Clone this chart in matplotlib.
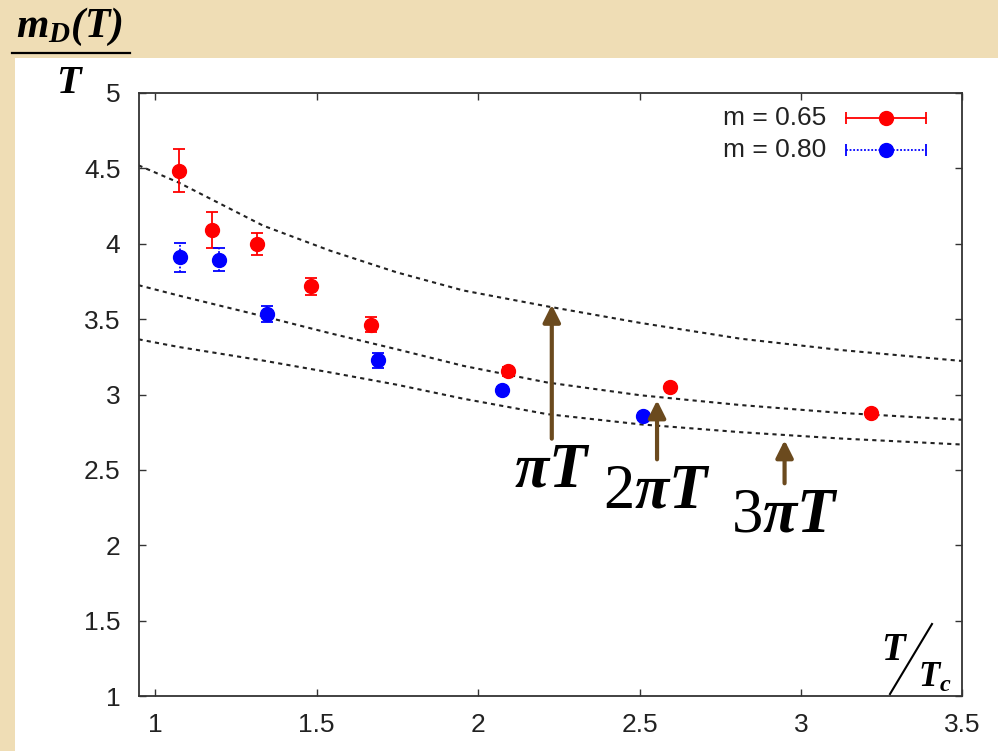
"""
Debye screening mass m_D(T)/T against T/Tc for two quark masses,
with the perturbative curves for three choices of the scale.
"""

import matplotlib.pyplot as plt
from matplotlib.patches import Rectangle
from matplotlib.lines import Line2D

plt.rcParams['font.family'] = ['Liberation Sans', 'DejaVu Sans']
plt.rcParams['mathtext.fontset'] = 'custom'
plt.rcParams['mathtext.rm'] = 'Liberation Serif'
plt.rcParams['mathtext.it'] = 'Liberation Serif:italic'
plt.rcParams['mathtext.bf'] = 'Liberation Serif:bold:italic'

# m = 0.65
t_065 = [1.073, 1.177, 1.316, 1.482, 1.667, 2.091, 2.593, 3.216]
md_065 = [4.483, 4.093, 3.998, 3.717, 3.464, 3.154, 3.049, 2.874]
err_065 = [0.143, 0.120, 0.075, 0.055, 0.050, 0.030, 0.020, 0.020]

# m = 0.80
t_080 = [1.075, 1.197, 1.346, 1.690, 2.073, 2.511]
md_080 = [3.909, 3.894, 3.534, 3.227, 3.033, 2.856]
err_080 = [0.097, 0.077, 0.055, 0.050, 0.020, 0.020]

# perturbative curves, mu = pi T, 2 pi T, 3 pi T
t_curve = [0.948, 1.073, 1.334, 1.540, 1.748, 1.954, 2.213, 2.502, 2.813, 3.123, 3.50]
pt_1 = [4.520, 4.405, 4.120, 3.955, 3.810, 3.690, 3.585, 3.475, 3.370, 3.295, 3.222]
pt_2 = [3.725, 3.656, 3.519, 3.407, 3.300, 3.190, 3.080, 2.995, 2.930, 2.878, 2.832]
pt_3 = [3.366, 3.315, 3.225, 3.147, 3.065, 2.972, 2.870, 2.802, 2.750, 2.708, 2.668]

# arrows pointing at the curves: x, tail, head, label
arrow_x = [2.228, 2.554, 2.949]
arrow_tail = [2.707, 2.570, 2.411]
arrow_head = [3.596, 2.962, 2.697]
arrow_text = [r'$\mathbf{\pi T}$', r'$2\mathbf{\pi T}$', r'$3\mathbf{\pi T}$']

parchment = '#EFDDB5'
brown = '#6B4A1E'

fig = plt.figure(figsize=(9.98, 7.51), dpi=100, facecolor=parchment)
fig.patches.append(Rectangle((15 / 998, 0), 1, 1 - 58 / 751, transform=fig.transFigure,
                             facecolor='white', edgecolor='none', zorder=-5))

ax = fig.add_axes([0.1388, 0.0732, 0.8256, 0.803], zorder=1)
ax.set_facecolor('white')

for curve in (pt_1, pt_2, pt_3):
    ax.plot(t_curve, curve, color='#222222', lw=1.5, ls=(0, (2, 2)), zorder=2)

eb = ax.errorbar(t_065, md_065, yerr=err_065, fmt='o', color='#FF0000', ms=10,
                 elinewidth=1.3, capsize=4, capthick=1.3, zorder=4)
eb2 = ax.errorbar(t_080, md_080, yerr=err_080, fmt='o', color='#0000FF', ms=10,
                  elinewidth=1.3, capsize=4, capthick=1.3, zorder=4)
for col in eb2[2]:
    col.set_linestyle((0, (1, 1)))

for x, y0, y1, label in zip(arrow_x, arrow_tail, arrow_head, arrow_text):
    ax.annotate('', xy=(x, y1), xytext=(x, y0),
                arrowprops=dict(arrowstyle='-|>', color=brown, lw=3,
                                mutation_scale=26, shrinkA=0, shrinkB=0), zorder=5)
    ax.text(x, y0 - 0.015, label, fontsize=45, ha='center', va='top', color='black', zorder=5)

# legend drawn by hand: text on the left, sample on the right
for row, (lab, col, ls) in enumerate([('m = 0.65', '#FF0000', '-'),
                                       ('m = 0.80', '#0000FF', (0, (1, 1)))]):
    yy = 0.958 - row * 0.052
    ax.text(0.835, yy, lab, transform=ax.transAxes, ha='right', va='center',
            fontsize=19, color='#222222')
    ax.plot([0.859, 0.956], [yy, yy], transform=ax.transAxes, color=col, ls=ls, lw=1.3)
    ax.plot([0.859, 0.956], [yy, yy], transform=ax.transAxes, color=col, ls='none',
            marker='|', ms=8, mew=1.3)
    ax.plot([0.9075], [yy], transform=ax.transAxes, color=col, marker='o', ms=10)

ax.set_xlim(0.948, 3.5)
ax.set_ylim(1, 5)
ax.set_xticks([1, 1.5, 2, 2.5, 3, 3.5])
ax.set_xticklabels(['1', '1.5', '2', '2.5', '3', '3.5'])
ax.set_yticks([1, 1.5, 2, 2.5, 3, 3.5, 4, 4.5, 5])
ax.set_yticklabels(['1', '1.5', '2', '2.5', '3', '3.5', '4', '4.5', '5'])
ax.tick_params(direction='in', length=5, width=1, top=True, right=True,
               labelsize=19, colors='#333333', labelcolor='#222222')
ax.tick_params(axis='x', pad=12)
ax.tick_params(axis='y', pad=13)
for sp in ax.spines.values():
    sp.set_linewidth(1.3)
    sp.set_color('#333333')

# y label as a fraction above the axis
fig.text(70 / 998, 1 - 37 / 751, r'$\mathbf{m_D(T)}$', fontsize=30, ha='center',
         va='baseline')
fig.add_artist(Line2D([12 / 998, 130 / 998], [1 - 52.5 / 751, 1 - 52.5 / 751],
                      color='black', lw=1.6))
fig.text(70 / 998, 1 - 93 / 751, r'$\mathbf{T}$', fontsize=29, ha='center', va='baseline')

# x label T / Tc in the lower right corner
fig.text(895 / 998, 1 - 660 / 751, r'$\mathbf{T}$', fontsize=28, ha='center', va='baseline')
fig.add_artist(Line2D([890 / 998, 932 / 998], [1 - 694 / 751, 1 - 624 / 751],
                      color='black', lw=1.5))
fig.text(918 / 998, 1 - 687 / 751, r'$\mathbf{T_c}$', fontsize=25, ha='left', va='baseline')

fig.savefig('out.png', dpi=100, facecolor=parchment)
